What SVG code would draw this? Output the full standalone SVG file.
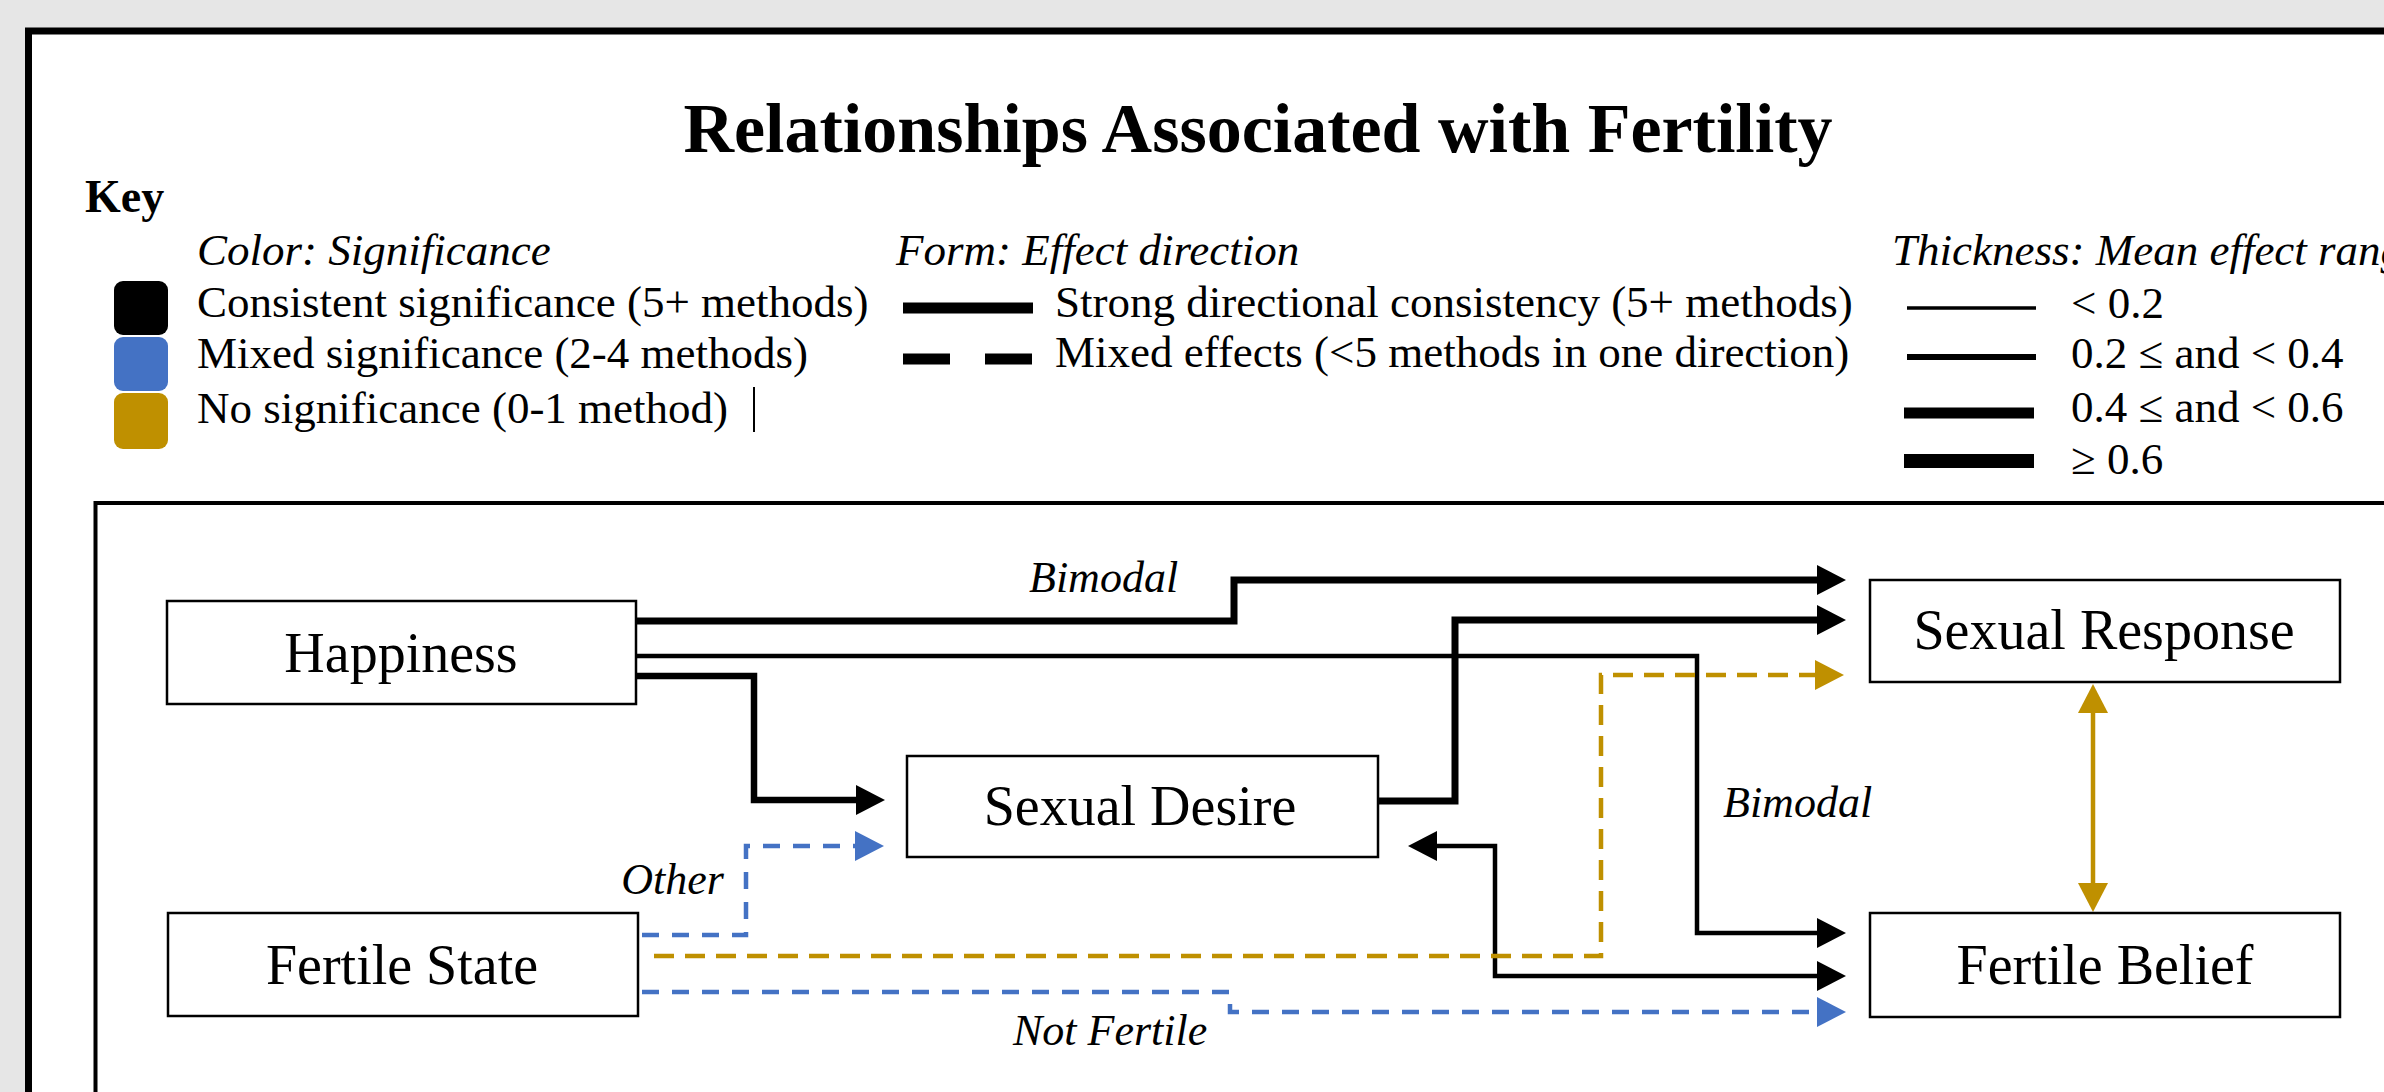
<svg xmlns="http://www.w3.org/2000/svg" width="2384" height="1092" viewBox="0 0 2384 1092">
<style>
text{font-family:"Liberation Serif","Times New Roman",serif;fill:#000}
.title{font-size:70px;font-weight:bold}
.key{font-size:46px;font-weight:bold}
.kt{font-size:45px}
.it{font-style:italic}
.lbl{font-size:44px;font-style:italic}
.node rect{fill:#fff;stroke:#000;stroke-width:2.5}
.node text{font-size:56px;text-anchor:middle}
.c{fill:none;stroke-linejoin:miter;stroke-linecap:butt}
.k{stroke:#000}
.b{stroke:#4472C4;stroke-dasharray:17 13}
.g{stroke:#BF9000}
.gd{stroke:#BF9000;stroke-dasharray:20 11}
</style>
<defs>
<marker id="ak" markerUnits="userSpaceOnUse" markerWidth="30" markerHeight="30" refX="0" refY="15" orient="auto-start-reverse" overflow="visible"><path d="M0,0 L29,15 L0,30 Z" fill="#000"/></marker>
<marker id="ab" markerUnits="userSpaceOnUse" markerWidth="30" markerHeight="30" refX="0" refY="15" orient="auto-start-reverse" overflow="visible"><path d="M0,0 L29,15 L0,30 Z" fill="#4472C4"/></marker>
<marker id="ag" markerUnits="userSpaceOnUse" markerWidth="30" markerHeight="30" refX="0" refY="15" orient="auto-start-reverse" overflow="visible"><path d="M0,0 L29,15 L0,30 Z" fill="#BF9000"/></marker>
</defs>
<rect x="0" y="0" width="2384" height="1092" fill="#e6e6e6"/>
<rect x="28.5" y="31" width="2420" height="1120" fill="#fff" stroke="#000" stroke-width="7"/>
<text class="title" x="1258" y="152" text-anchor="middle">Relationships Associated with Fertility</text>
<g id="key">
<text class="key" x="85" y="212">Key</text>
<text class="kt it" x="197" y="265">Color: Significance</text>
<rect x="114" y="281" width="54" height="54" rx="9" fill="#000"/>
<rect x="114" y="337" width="54" height="54" rx="9" fill="#4472C4"/>
<rect x="114" y="393" width="54" height="56" rx="9" fill="#BF9000"/>
<text class="kt" x="197" y="317">Consistent significance (5+ methods)</text>
<text class="kt" x="197" y="368">Mixed significance (2-4 methods)</text>
<text class="kt" x="197" y="423">No significance (0-1 method)</text>
<line x1="754" y1="387" x2="754" y2="432" stroke="#000" stroke-width="2"/>
<text class="kt it" x="896" y="265">Form: Effect direction</text>
<line x1="903" y1="308" x2="1033" y2="308" stroke="#000" stroke-width="11"/>
<line x1="903" y1="359" x2="1033" y2="359" stroke="#000" stroke-width="11" stroke-dasharray="47 35"/>
<text class="kt" x="1055" y="317">Strong directional consistency (5+ methods)</text>
<text class="kt" x="1055" y="367">Mixed effects (&lt;5 methods in one direction)</text>
<text class="kt it" x="1892" y="265">Thickness: Mean effect range</text>
<line x1="1907" y1="308" x2="2036" y2="308" stroke="#000" stroke-width="3.5"/>
<line x1="1907" y1="357" x2="2036" y2="357" stroke="#000" stroke-width="6"/>
<line x1="1904" y1="413" x2="2034" y2="413" stroke="#000" stroke-width="11"/>
<line x1="1904" y1="461" x2="2034" y2="461" stroke="#000" stroke-width="14"/>
<text class="kt" x="2071" y="318">&lt; 0.2</text>
<text class="kt" x="2071" y="368">0.2 ≤ and &lt; 0.4</text>
<text class="kt" x="2071" y="422">0.4 ≤ and &lt; 0.6</text>
<text class="kt" x="2071" y="474">≥ 0.6</text>
</g>
<rect x="95.5" y="503" width="2400" height="700" fill="#fff" stroke="#000" stroke-width="4"/>
<g id="connectors">
<path class="c k" d="M636,621 H1234 V580 H1817" stroke-width="7" marker-end="url(#ak)"/>
<path class="c k" d="M636,656 H1697 V933 H1817" stroke-width="4.5" marker-end="url(#ak)"/>
<path class="c k" d="M636,676 H754 V800 H856" stroke-width="6.5" marker-end="url(#ak)"/>
<path class="c k" d="M1378,801 H1455 V620 H1817" stroke-width="7" marker-end="url(#ak)"/>
<path class="c k" d="M1437,846 H1495 V976 H1817" stroke-width="4.5" marker-start="url(#ak)" marker-end="url(#ak)"/>
<path class="c b" d="M642,935 H746 V846 H855" stroke-width="4.5" marker-end="url(#ab)"/>
<path class="c gd" d="M654,956 H1601 V675 H1815" stroke-width="4.5" marker-end="url(#ag)"/>
<path class="c b" d="M642,992 H1230 V1012 H1817" stroke-width="4.5" marker-end="url(#ab)"/>
<path class="c g" d="M2093,713 V883" stroke-width="4.5" marker-start="url(#ag)" marker-end="url(#ag)"/>
<text class="lbl" x="1029" y="592">Bimodal</text>
<text class="lbl" x="724" y="894" text-anchor="end">Other</text>
<text class="lbl" x="1723" y="817">Bimodal</text>
<text class="lbl" x="1013" y="1045">Not Fertile</text>
</g>
<g id="happiness" class="node"><rect x="167" y="601" width="469" height="103"/><text x="401" y="672">Happiness</text></g>
<g id="fertile-state" class="node"><rect x="168" y="913" width="470" height="103"/><text x="402" y="984">Fertile State</text></g>
<g id="sexual-desire" class="node"><rect x="907" y="756" width="471" height="101"/><text x="1140" y="825">Sexual Desire</text></g>
<g id="sexual-response" class="node"><rect x="1870" y="580" width="470" height="102"/><text x="2104" y="649">Sexual Response</text></g>
<g id="fertile-belief" class="node"><rect x="1870" y="913" width="470" height="104"/><text x="2105" y="984">Fertile Belief</text></g>
</svg>
